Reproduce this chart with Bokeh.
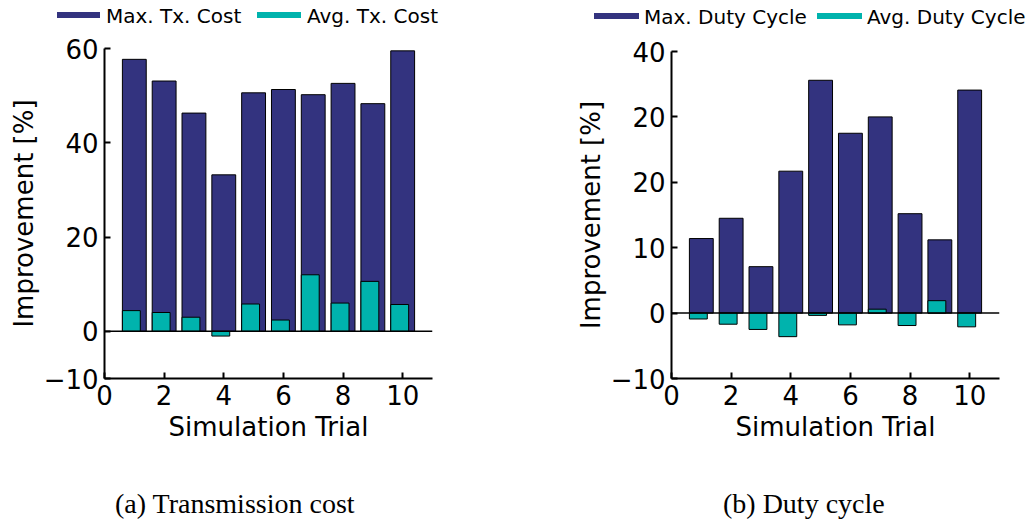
from bokeh.plotting import figure
from bokeh.layouts import row, column
from bokeh.models import Range1d, FixedTicker, Span, ColumnDataSource, Div
from bokeh.transform import dodge
from bokeh.embed import file_html
from bokeh.resources import INLINE

# Simulation trials
trials = [1, 2, 3, 4, 5, 6, 7, 8, 9, 10]

# (a) Transmission cost improvement [%]
max_tx_cost = [57.7, 53.1, 46.3, 33.2, 50.6, 51.3, 50.2, 52.6, 48.3, 59.5]
avg_tx_cost = [4.4, 4.0, 3.0, -1.0, 5.8, 2.4, 12.0, 6.0, 10.6, 5.7]

# (b) Duty cycle improvement [%]
max_duty = [11.4, 14.5, 7.1, 21.7, 35.6, 27.5, 30.0, 15.2, 11.2, 34.1]
avg_duty = [-0.9, -1.7, -2.5, -3.6, -0.35, -1.8, 0.6, -1.9, 1.9, -2.1]

x_ticks = [0, 2, 4, 6, 8, 10]
y_ticks_a = [-10, 0, 20, 40, 60]
y_labels_a = ["\u221210", "0", "20", "40", "60"]
y_ticks_b = [-10, 0, 10, 20, 30, 40]
y_labels_b = ["\u221210", "0", "10", "20", "20", "40"]

NAVY = "#33337f"
TEAL = "#00b3ad"
SANS = "DejaVu Sans"
SERIF = "Liberation Serif"

PANEL_W = 516
LEGEND_H = 30
CAPTION_H = 30
PLOT_H = 520 - LEGEND_H - CAPTION_H


def legend_div(names, swatch_x, label_x, text_top, swatch_top):
    """Horizontal legend strip: a thick colour swatch followed by its label."""
    colors = [NAVY, TEAL]
    parts = []
    for name, sx, lx, c in zip(names, swatch_x, label_x, colors):
        parts.append(
            f'<div style="position:absolute;left:{sx[0]}px;top:{swatch_top}px;'
            f'width:{sx[1] - sx[0]}px;height:6px;background:{c};"></div>'
        )
        parts.append(
            f'<div style="position:absolute;left:{lx}px;top:{text_top}px;'
            f'font-family:\'{SANS}\';font-size:20px;line-height:20px;color:black;'
            f'white-space:nowrap;">{name}</div>'
        )
    html = (f'<div style="position:relative;width:{PANEL_W}px;height:{LEGEND_H}px;">'
            + "".join(parts) + "</div>")
    return Div(text=html, width=PANEL_W, height=LEGEND_H, margin=0)


def caption_div(caption, left):
    html = (f'<div style="position:relative;width:{PANEL_W}px;height:{CAPTION_H}px;">'
            f'<div style="position:absolute;left:{left}px;top:0px;'
            f'font-family:\'{SERIF}\';font-size:28px;line-height:28px;color:black;'
            f'white-space:nowrap;">{caption}</div></div>')
    return Div(text=html, width=PANEL_W, height=CAPTION_H, margin=0)


def panel(max_vals, avg_vals, y_range, y_ticks, y_labels,
          border_left, border_right, border_top, frame_h):
    src = ColumnDataSource(dict(trial=trials, max_v=max_vals, avg_v=avg_vals))
    p = figure(width=PANEL_W, height=PLOT_H, output_backend="svg", toolbar_location=None,
               x_range=Range1d(0, 11), y_range=Range1d(*y_range),
               min_border_left=border_left, min_border_right=border_right,
               min_border_top=border_top,
               min_border_bottom=PLOT_H - border_top - frame_h)
    p.outline_line_color = None
    p.grid.visible = False

    p.vbar(x="trial", top="max_v", bottom=0, width=0.8, source=src,
           fill_color=NAVY, line_color="black", line_width=1)
    p.vbar(x=dodge("trial", -0.1), top="avg_v", bottom=0, width=0.6, source=src,
           fill_color=TEAL, line_color="black", line_width=1)
    p.add_layout(Span(location=0, dimension="width", line_color="black", line_width=1.5))

    for ax in (p.xaxis[0], p.yaxis[0]):
        ax.axis_line_width = 2
        ax.major_tick_line_width = 2
        ax.major_tick_in = 6
        ax.major_tick_out = 0
        ax.minor_tick_line_color = None
        ax.major_label_text_font = SANS
        ax.major_label_text_font_size = "26px"
        ax.major_label_text_color = "black"
        ax.axis_label_text_font = SANS
        ax.axis_label_text_font_size = "26px"
        ax.axis_label_text_font_style = "normal"
        ax.axis_label_text_color = "black"

    p.xaxis.ticker = FixedTicker(ticks=x_ticks)
    p.xaxis.axis_label = "Simulation Trial"
    p.xaxis.major_label_standoff = 6
    p.xaxis.axis_label_standoff = 4

    p.yaxis.ticker = FixedTicker(ticks=y_ticks)
    p.yaxis.major_label_overrides = {t: l for t, l in zip(y_ticks, y_labels)}
    p.yaxis.axis_label = "Improvement [%]"
    p.yaxis.major_label_standoff = 6
    p.yaxis.axis_label_standoff = 2
    return p


pa = panel(max_tx_cost, avg_tx_cost, (-10, 60), y_ticks_a, y_labels_a,
           104, 84, 48 - LEGEND_H, 330)
pb = panel(max_duty, avg_duty, (-10, 40), y_ticks_b, y_labels_b,
           155, 33, 51 - LEGEND_H, 327)

la = legend_div(["Max. Tx. Cost", "Avg. Tx. Cost"], [(57, 100), (257, 301)], [106, 307], 6, 12)
lb = legend_div(["Max. Duty Cycle", "Avg. Duty Cycle"], [(78, 123), (301, 346)], [128, 351], 7, 13)

ca = caption_div("(a) Transmission cost", 115)
cb = caption_div("(b) Duty cycle", 207)

layout = row(column(la, pa, ca, spacing=0), column(lb, pb, cb, spacing=0), spacing=0)
open("out.html", "w").write(file_html(layout, INLINE))
